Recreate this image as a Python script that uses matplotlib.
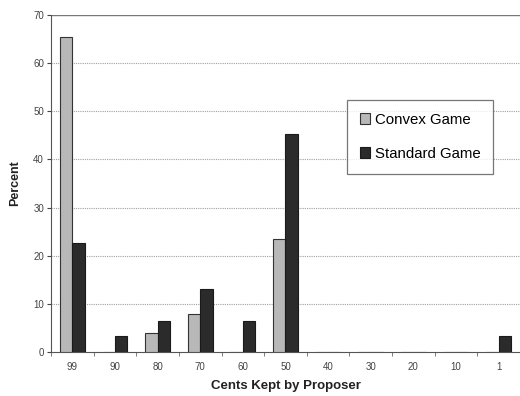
import matplotlib
matplotlib.use("Agg")
import matplotlib.pyplot as plt
import numpy as np

plt.rcParams["font.family"] = ["Liberation Sans", "DejaVu Sans"]

categories = ["99", "90", "80", "70", "60", "50", "40", "30", "20", "10", "1"]
convex = [65.5, 0, 3.9, 7.8, 0, 23.4, 0, 0, 0, 0, 0]
standard = [22.7, 3.3, 6.5, 13.1, 6.5, 45.2, 0, 0, 0, 0, 3.3]

fig = plt.figure(figsize=(5.2, 3.96), dpi=100)
ax = fig.add_axes([0.098, 0.111, 0.902, 0.851])

x = np.arange(len(categories))
w = 0.29
ax.bar(x - w / 2, convex, w, color="#b8b8b8", edgecolor="#333333", linewidth=0.8,
       label="Convex Game", zorder=3)
ax.bar(x + w / 2, standard, w, color="#2b2b2b", edgecolor="#1a1a1a", linewidth=0.8,
       label="Standard Game", zorder=3)

ax.set_xlim(-0.5, len(categories) - 0.5)
ax.set_ylim(0, 70)
ax.set_yticks(range(0, 71, 10))
ax.set_xticks(x)
ax.set_xticklabels(categories)
ax.set_xticks(np.arange(-0.5, len(categories), 1), minor=True)
ax.tick_params(axis="x", which="major", length=0, labelsize=7, colors="#444444", pad=7)
ax.tick_params(axis="x", which="minor", length=3, direction="out", color="#666666")
ax.tick_params(axis="y", length=3, direction="out", labelsize=7, colors="#444444", pad=2)

for yv in range(10, 70, 10):
    ax.axhline(yv, color="#a0a0a0", linewidth=0.8, linestyle=(0, (1, 1)), zorder=1)
ax.axhline(70, color="#777777", linewidth=1.0, zorder=1)

for s in ["top", "right"]:
    ax.spines[s].set_visible(False)
ax.spines["left"].set_color("#555555")
ax.spines["bottom"].set_color("#555555")

ax.set_ylabel("Percent", fontsize=9, fontweight="bold", color="#222222", labelpad=9)
ax.set_xlabel("Cents Kept by Proposer", fontsize=9.5, fontweight="bold", color="#222222", labelpad=6)

leg = ax.legend(loc="upper left", bbox_to_anchor=(0.631, 0.748), fontsize=10.8,
                frameon=True, fancybox=False, edgecolor="#555555",
                handlelength=0.7, handleheight=0.7, handletextpad=0.3,
                labelspacing=1.35, borderpad=0.85, borderaxespad=0)
leg.get_frame().set_linewidth(0.9)

fig.savefig("out.png", dpi=100)
